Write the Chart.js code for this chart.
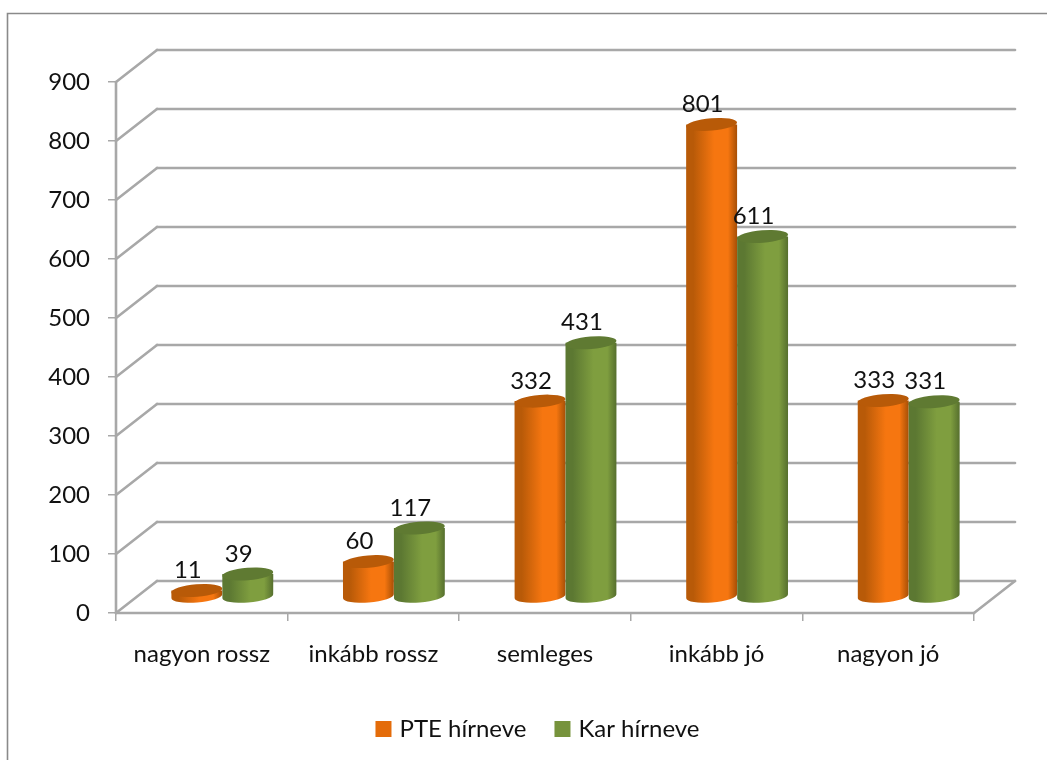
<!DOCTYPE html>
<html><head><meta charset="utf-8">
<style>html,body{margin:0;padding:0;background:#fff}canvas{display:block}</style>
<script src="https://cdn.jsdelivr.net/npm/chart.js@4"></script>
</head><body><canvas id="c" width="1047" height="760"></canvas>
<script>
const categories = ['nagyon rossz','inkább rossz','semleges','inkább jó','nagyon jó'];
const pteValues = [11,60,332,801,333];
const karValues = [39,117,431,611,331];
const seriesNames = ['PTE hírneve','Kar hírneve'];
const yMax = 900, yStep = 100;
const FONT = 'Lato';
const FSIZE = 24;
const GRID = '#a8a8a8';
const DX = 41, DY = -32;        // depth vector of the 3D box
const palettes = [
  {edgeL:'#b85a08',mid:'#f67610',edgeR:'#a64f06',top:'#b85a08',key:'#e46c0a'},
  {edgeL:'#5c7832',mid:'#7f9e3f',edgeR:'#566f2e',top:'#5f7a32',key:'#77933c'}
];
const box3d = {
  id:'box3d',
  afterLayout(chart){
    chart.legend.left += 52.5; chart.legend.right += 52.5;
  },
  beforeDatasetsDraw(chart){
    const {ctx,scales:{x,y}} = chart;
    ctx.save();
    ctx.filter = 'blur(0.4px)';
    ctx.strokeStyle = GRID; ctx.lineWidth = 2.6; ctx.lineCap='round';
    const line=(a,b,c,d)=>{ctx.beginPath();ctx.moveTo(a,b);ctx.lineTo(c,d);ctx.stroke();};
    y.ticks.forEach(t=>{
      const p = y.getPixelForValue(t.value);
      line(x.left,p,x.left+DX,p+DY);
      line(x.left+DX,p+DY,x.right+DX,p+DY);
    });
    const b = y.getPixelForValue(0);
    line(x.left,y.top,x.left,b);
    line(x.left,b,x.right,b);
    line(x.right,b,x.right+DX,b+DY);
    ctx.restore();
  },
  beforeDatasetDraw(){ return false; },
  afterDatasetsDraw(chart){
    const {ctx} = chart;
    ctx.save();
    ctx.filter = 'blur(0.6px)';
    chart.data.datasets.forEach((ds,i)=>{
      const pal = palettes[i];
      chart.getDatasetMeta(i).data.forEach(el=>{
        const cx = el.x + DX/2, w = el.width, rx = w/2, ry = 6.2, rot = -0.08;
        const yT = el.y + DY/2, yB = el.base + DY/2;
        const g = ctx.createLinearGradient(cx-rx,0,cx+rx,0);
        g.addColorStop(0,pal.edgeL); g.addColorStop(.14,pal.edgeL);
        g.addColorStop(.55,pal.mid); g.addColorStop(.82,pal.mid);
        g.addColorStop(1,pal.edgeR);
        ctx.fillStyle = g;
        ctx.beginPath();
        ctx.ellipse(cx,yB,rx,ry,rot,0,Math.PI);
        ctx.lineTo(cx-rx,yT); ctx.lineTo(cx+rx,yT); ctx.closePath();
        ctx.fill();
        ctx.fillStyle = pal.top;
        ctx.beginPath();
        ctx.ellipse(cx,yT,rx,ry,rot,0,Math.PI*2);
        ctx.fill();
      });
    });
    ctx.filter = 'none';
    ctx.font = FSIZE+'px '+FONT; ctx.fillStyle = '#111';
    ctx.textAlign='center'; ctx.textBaseline='middle';
    chart.data.datasets.forEach((ds,i)=>{
      chart.getDatasetMeta(i).data.forEach((el,j)=>{
        ctx.fillText(String(ds.data[j]), el.x + DX/2 - 9, el.y + DY/2 - 20);
      });
    });
    ctx.restore();
  },
  afterDraw(chart){
    const {ctx} = chart;
    ctx.save();
    ctx.strokeStyle='#8a8a8a'; ctx.lineWidth=1.6;
    ctx.beginPath();
    ctx.moveTo(7.5,760); ctx.lineTo(7.5,13.5); ctx.lineTo(1047,13.5);
    ctx.stroke();
    ctx.restore();
  }
};
new Chart(document.getElementById('c'),{
  type:'bar',
  data:{labels:categories,datasets:[
    {label:seriesNames[0],data:pteValues,backgroundColor:palettes[0].key,borderColor:palettes[0].key,borderWidth:8,categoryPercentage:.594,barPercentage:1},
    {label:seriesNames[1],data:karValues,backgroundColor:palettes[1].key,borderColor:palettes[1].key,borderWidth:8,categoryPercentage:.594,barPercentage:1}
  ]},
  options:{
    responsive:false,animation:false,
    layout:{padding:{left:0,top:82,right:73,bottom:9}},
    plugins:{
      tooltip:{enabled:false},
      legend:{position:'bottom',labels:{boxWidth:8,boxHeight:8,padding:32,color:'#111',font:{family:FONT,size:FSIZE}}}
    },
    scales:{
      x:{grid:{display:true,drawOnChartArea:false,tickLength:8,color:GRID,lineWidth:1.5},border:{display:false},
         ticks:{color:'#111',padding:19,font:{family:FONT,size:FSIZE},maxRotation:0,autoSkip:false},
         afterFit(s){s.height=72;}},
      y:{min:0,max:yMax,grid:{display:true,drawOnChartArea:false,tickLength:8,color:GRID,lineWidth:1.5},border:{display:false},
         ticks:{stepSize:yStep,color:'#111',padding:18,font:{family:FONT,size:FSIZE}},
         afterFit(s){s.width=116;}}
    }
  },
  plugins:[box3d]
});
</script></body></html>
